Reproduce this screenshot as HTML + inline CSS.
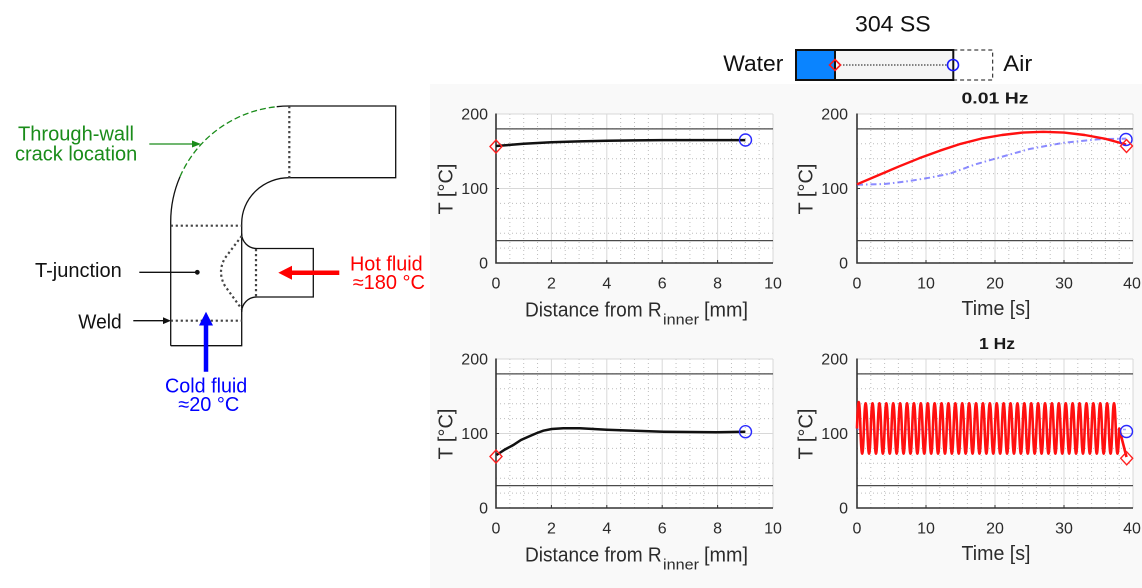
<!DOCTYPE html>
<html>
<head>
<meta charset="utf-8">
<style>
  html,body{margin:0;padding:0;background:#fff;}
  svg{display:block;}
  text{font-family:"Liberation Sans", Arial, sans-serif;}
</style>
</head>
<body>
<svg width="1142" height="588" viewBox="0 0 1142 588" xmlns="http://www.w3.org/2000/svg">
  <rect x="0" y="0" width="1142" height="588" fill="#ffffff"/>
  <!-- figure background -->
  <rect x="430" y="84" width="712" height="504" fill="#f9f9f9"/>

  <defs>
    <g id="gridL">
      <rect x="496" y="114" width="277" height="149" fill="#ffffff"/>
      <path d="M509.85,114V263M523.7,114V263M537.55,114V263M565.25,114V263M579.1,114V263M592.95,114V263M620.65,114V263M634.5,114V263M648.35,114V263M676.05,114V263M689.9,114V263M703.75,114V263M731.45,114V263M745.3,114V263M759.15,114V263M496,248.1H773M496,233.2H773M496,218.3H773M496,203.4H773M496,173.6H773M496,158.7H773M496,143.8H773M496,128.9H773" stroke="#bdbdbd" stroke-width="1" stroke-dasharray="1 3" fill="none"/>
      <path d="M551.4,114V263M606.8,114V263M662.2,114V263M717.6,114V263M773,114V263M496,188.5H773M496,114H773" stroke="#d8d8d8" stroke-width="1" fill="none"/>
      <path d="M496,128.9H773M496,240.65H773" stroke="#4a4a4a" stroke-width="1.2" fill="none"/>
      <path d="M496,113.5V263H773" stroke="#333" stroke-width="1.6" fill="none"/>
      <path d="M496,188.5h3M551.4,263v-3M606.8,263v-3M662.2,263v-3M717.6,263v-3" stroke="#333" stroke-width="1" fill="none"/>
      <g font-size="16" fill="#2b2b2b" text-anchor="end">
        <text x="488" y="268.5">0</text>
        <text x="488" y="194">100</text>
        <text x="488" y="119.5">200</text>
      </g>
      <g font-size="16" fill="#2b2b2b" text-anchor="middle">
        <text x="496" y="288.5">0</text>
        <text x="551.4" y="288.5">2</text>
        <text x="606.8" y="288.5">4</text>
        <text x="662.2" y="288.5">6</text>
        <text x="717.6" y="288.5">8</text>
        <text x="773" y="288.5">10</text>
      </g>
      <text transform="translate(452.5,189) rotate(-90)" font-size="20" fill="#2b2b2b" text-anchor="middle">T [°C]</text>
      <text x="525" y="316.5" font-size="20" fill="#2b2b2b" textLength="136.7" lengthAdjust="spacingAndGlyphs">Distance from R</text>
      <text x="663" y="324.5" font-size="15" fill="#2b2b2b" textLength="36" lengthAdjust="spacingAndGlyphs">inner</text>
      <text x="704" y="316.5" font-size="20" fill="#2b2b2b" textLength="44" lengthAdjust="spacingAndGlyphs">[mm]</text>
    </g>
    <g id="gridR">
      <rect x="857" y="114" width="276" height="149" fill="#ffffff"/>
      <path d="M870.8,114V263M884.6,114V263M898.4,114V263M912.2,114V263M939.8,114V263M953.6,114V263M967.4,114V263M981.2,114V263M1008.8,114V263M1022.6,114V263M1036.4,114V263M1050.2,114V263M1077.8,114V263M1091.6,114V263M1105.4,114V263M1119.2,114V263M857,248.1H1133M857,233.2H1133M857,218.3H1133M857,203.4H1133M857,173.6H1133M857,158.7H1133M857,143.8H1133M857,128.9H1133" stroke="#bdbdbd" stroke-width="1" stroke-dasharray="1 3" fill="none"/>
      <path d="M926,114V263M995,114V263M1064,114V263M1133,114V263M857,188.5H1133M857,114H1133" stroke="#d8d8d8" stroke-width="1" fill="none"/>
      <path d="M857,128.9H1133M857,240.65H1133" stroke="#4a4a4a" stroke-width="1.2" fill="none"/>
      <path d="M857,113.5V263H1133" stroke="#333" stroke-width="1.6" fill="none"/>
      <path d="M857,188.5h3M926,263v-3M995,263v-3M1064,263v-3" stroke="#333" stroke-width="1" fill="none"/>
      <g font-size="16" fill="#2b2b2b" text-anchor="end">
        <text x="848" y="268.5">0</text>
        <text x="848" y="194">100</text>
        <text x="848" y="119.5">200</text>
      </g>
      <g font-size="16" fill="#2b2b2b" text-anchor="middle">
        <text x="857" y="288.5">0</text>
        <text x="926" y="288.5">10</text>
        <text x="995" y="288.5">20</text>
        <text x="1064" y="288.5">30</text>
        <text x="1132" y="288.5">40</text>
      </g>
      <text transform="translate(812.5,189) rotate(-90)" font-size="20" fill="#2b2b2b" text-anchor="middle">T [°C]</text>
      <text x="996" y="315" font-size="20" fill="#2b2b2b" text-anchor="middle" textLength="69" lengthAdjust="spacingAndGlyphs">Time [s]</text>
    </g>
  </defs>

  <!-- four axes -->
  <use href="#gridL"/>
  <use href="#gridL" y="245"/>
  <use href="#gridR"/>
  <use href="#gridR" y="245"/>

  <!-- titles -->
  <text x="995" y="103.3" font-size="16" font-weight="bold" fill="#1a1a1a" text-anchor="middle" textLength="67" lengthAdjust="spacingAndGlyphs">0.01 Hz</text>
  <text x="997" y="349" font-size="16" font-weight="bold" fill="#1a1a1a" text-anchor="middle" textLength="36" lengthAdjust="spacingAndGlyphs">1 Hz</text>

  <!-- TL data -->
  <path d="M496,146 L509.85,144.9 L523.7,143.8 L551.4,142.3 L579.1,141.4 L606.8,140.8 L634.5,140.4 L662.2,140.1 L745.3,140.1" stroke="#111" stroke-width="2.5" fill="none"/>
  <path d="M496,140 L502,146.5 L496,153 L490,146.5 Z" stroke="#ff2020" stroke-width="1.4" fill="none"/>
  <circle cx="745.5" cy="140" r="6" stroke="#2a2aff" stroke-width="1.4" fill="none"/>

  <!-- BL data -->
  <path d="M496.5,455 L505,449.5 L513.3,445 L521,440 L530,436 L537,433 L543.3,430.7 L551.7,429 L563.3,428.3 L580,428.3 L606.7,429.7 L635,430.8 L663.3,431.7 L716.7,432.3 L745.3,431.7" stroke="#111" stroke-width="2.5" fill="none"/>
  <path d="M496,450 L502,456.5 L496,463 L490,456.5 Z" stroke="#ff2020" stroke-width="1.4" fill="none"/>
  <circle cx="745.5" cy="431.7" r="6" stroke="#2a2aff" stroke-width="1.4" fill="none"/>

  <!-- TR data -->
  <path d="M857,184.8 L884.6,184 L908.8,181.1 L929.5,177.7 L950.2,173.6 L974.3,164.7 L995,158.7 L1029.5,149 L1064,142.7 L1098.5,139.3 L1126.1,138.6" stroke="#5a5aff" stroke-opacity="0.7" stroke-width="2" stroke-dasharray="6 3 1.5 3" fill="none"/>
  <path d="M857,184.3 L877.7,175.5 L898.4,166.7 L919.1,158.3 L939.8,150.7 L960.5,143.9 L981.2,138.6 L1001.9,135 L1022.6,132.6 L1043.3,131.8 L1064,132.6 L1084.7,135 L1105.4,138.8 L1126.1,144.5" stroke="#ff1010" stroke-width="2.4" fill="none" stroke-linejoin="round"/>
  <circle cx="1126" cy="139.5" r="6" stroke="#2a2aff" stroke-width="1.4" fill="none"/>
  <path d="M1126.5,139.5 L1132.5,146 L1126.5,152.5 L1120.5,146 Z" stroke="#ff2020" stroke-width="1.4" fill="none"/>

  <!-- BR data -->
  <path d="M857,429.5 H1126" stroke="#6b6bff" stroke-opacity="0.6" stroke-width="1.5" stroke-dasharray="3 4" fill="none"/>
  <path d="M857,428.5 Q858.725,375.5 860.45,428.5 q1.725,50.4 3.45,0 t3.45,0 t3.45,0 t3.45,0 t3.45,0 t3.45,0 t3.45,0 t3.45,0 t3.45,0 t3.45,0 t3.45,0 t3.45,0 t3.45,0 t3.45,0 t3.45,0 t3.45,0 t3.45,0 t3.45,0 t3.45,0 t3.45,0 t3.45,0 t3.45,0 t3.45,0 t3.45,0 t3.45,0 t3.45,0 t3.45,0 t3.45,0 t3.45,0 t3.45,0 t3.45,0 t3.45,0 t3.45,0 t3.45,0 t3.45,0 t3.45,0 t3.45,0 t3.45,0 t3.45,0 t3.45,0 t3.45,0 t3.45,0 t3.45,0 t3.45,0 t3.45,0 t3.45,0 t3.45,0 t3.45,0 t3.45,0 t3.45,0 t3.45,0 t3.45,0 t3.45,0 t3.45,0 t3.45,0 t3.45,0 t3.45,0 t3.45,0 t3.45,0 t3.45,0 t3.45,0 t3.45,0 t3.45,0 t3.45,0 t3.45,0 t3.45,0 t3.45,0 t3.45,0 t3.45,0 t3.45,0 t3.45,0 t3.45,0 t3.45,0 t3.45,0 t3.45,0 L1126.5,457" stroke="#ff1010" stroke-width="2.6" fill="none" stroke-linejoin="round"/>
  <circle cx="1126.5" cy="431.5" r="6" stroke="#2a2aff" stroke-width="1.4" fill="none"/>
  <path d="M1126.7,451.8 L1132.7,458.3 L1126.7,464.8 L1120.7,458.3 Z" stroke="#ff2020" stroke-width="1.4" fill="none"/>

  <!-- Legend / wall schematic -->
  <text x="855" y="31.7" font-size="22" fill="#111" textLength="75.7" lengthAdjust="spacingAndGlyphs">304 SS</text>
  <text x="723.3" y="71" font-size="22" fill="#111" textLength="60" lengthAdjust="spacingAndGlyphs">Water</text>
  <text x="1003.3" y="71" font-size="22" fill="#111" textLength="29" lengthAdjust="spacingAndGlyphs">Air</text>
  <rect x="953.3" y="50" width="39.4" height="30" fill="none" stroke="#111" stroke-width="1" stroke-dasharray="4 3"/>
  <rect x="796" y="50" width="39" height="30" fill="#0a84ff"/>
  <rect x="835" y="50" width="118.3" height="30" fill="#f5f5f5"/>
  <rect x="796" y="50" width="157.3" height="30" fill="none" stroke="#111" stroke-width="2"/>
  <path d="M835,50V80" stroke="#111" stroke-width="2"/>
  <path d="M840,65H948" stroke="#111" stroke-width="1" stroke-dasharray="1.5 1.5"/>
  <path d="M835,59.5 L840.5,65 L835,70.5 L829.5,65 Z" fill="none" stroke="#ff1a1a" stroke-width="1.6"/>
  <circle cx="953" cy="65" r="5.5" fill="none" stroke="#1a1aff" stroke-width="1.6"/>

  <!-- Left pipe diagram -->
  <g fill="none" stroke="#111" stroke-width="1.3">
    <path d="M170.7,345.7 L170.7,222 A118.6,116 0 0 1 180,176.7"/>
    <path d="M276.7,106.7 A118.6,116 0 0 1 289.3,106 L395.7,106 L395.7,177.7 L289.3,177.7 A47.6,45.6 0 0 0 241.7,223.3 L241.7,345.7 L170.7,345.7"/>
    <path d="M241.7,233.5 A15,15 0 0 0 256.7,248.5 L313.3,248.5 L313.3,297 L256.7,297 A15,15 0 0 0 241.7,312"/>
  </g>
  <path d="M180,176.7 A118.6,116 0 0 1 276.7,106.7" fill="none" stroke="#1a8c1a" stroke-width="1.3" stroke-dasharray="6 3"/>
  <g fill="none" stroke="#444" stroke-width="2.2" stroke-dasharray="2.2 2.8">
    <path d="M170.7,225.7 H241.7"/>
    <path d="M289.3,106 V177.7"/>
    <path d="M170.7,320.7 H241.7"/>
    <path d="M256,249 V297"/>
    <path d="M241.7,236 L225,258 Q217,272 225,286 L241.7,309"/>
  </g>
  <!-- annotation arrows -->
  <path d="M149.3,144 H194" stroke="#1a8c1a" stroke-width="1.3"/>
  <path d="M201,144 L192,140.5 L192,147.5 Z" fill="#1a8c1a"/>
  <path d="M139.3,272.3 H197.3" stroke="#111" stroke-width="1.3"/>
  <circle cx="197.3" cy="272.3" r="2.4" fill="#111"/>
  <path d="M133.3,320.7 H164" stroke="#111" stroke-width="1.3"/>
  <path d="M171,320.7 L163,317.3 L163,324.1 Z" fill="#111"/>
  <path d="M339.3,272.7 H290" stroke="#ff0000" stroke-width="4.5"/>
  <path d="M278.3,272.7 L292,265.7 L292,279.7 Z" fill="#ff0000"/>
  <path d="M206,371.7 V323" stroke="#0000ff" stroke-width="4.5"/>
  <path d="M206,311.7 L199,325.5 L213,325.5 Z" fill="#0000ff"/>

  <!-- diagram labels -->
  <g font-size="20">
    <text x="18" y="140.7" fill="#1a8c1a" textLength="116" lengthAdjust="spacingAndGlyphs">Through-wall</text>
    <text x="15" y="160.7" fill="#1a8c1a" textLength="122.3" lengthAdjust="spacingAndGlyphs">crack location</text>
    <text x="35" y="277" fill="#111" textLength="86.7" lengthAdjust="spacingAndGlyphs">T-junction</text>
    <text x="78.3" y="328.3" fill="#111" textLength="43.4" lengthAdjust="spacingAndGlyphs">Weld</text>
    <text x="350" y="270.5" fill="#ff0000" textLength="72.7" lengthAdjust="spacingAndGlyphs">Hot fluid</text>
    <text x="352.7" y="289.2" fill="#ff0000" textLength="72.3" lengthAdjust="spacingAndGlyphs">≈180 °C</text>
    <text x="165" y="392.5" fill="#0000ff" textLength="82.3" lengthAdjust="spacingAndGlyphs">Cold fluid</text>
    <text x="178.3" y="410.8" fill="#0000ff" textLength="61" lengthAdjust="spacingAndGlyphs">≈20 °C</text>
  </g>
</svg>
</body>
</html>
